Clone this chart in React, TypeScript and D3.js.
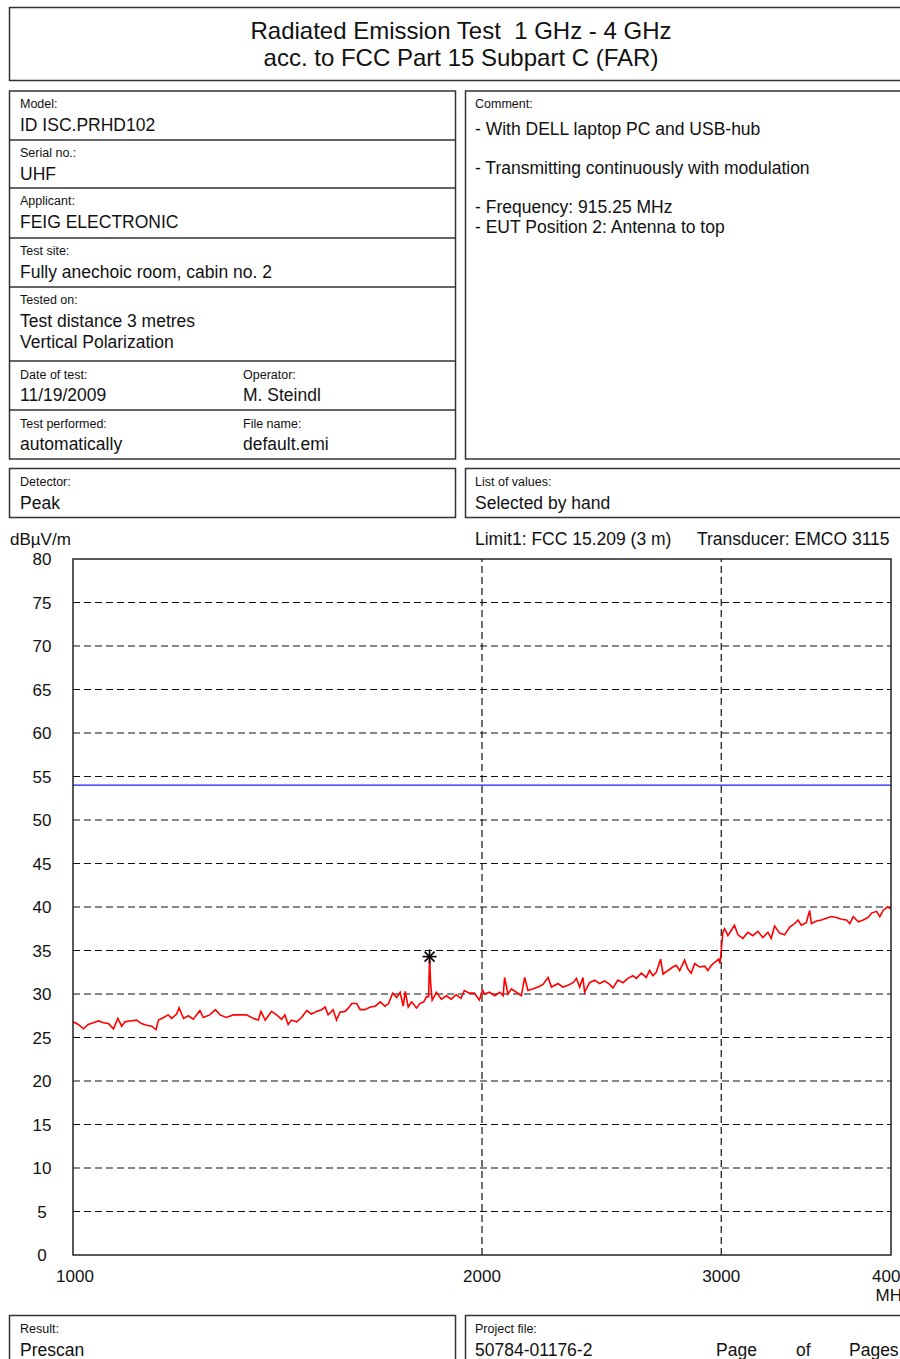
import React from "react";
import * as d3 from "d3";

// ---------- data ----------
const titleLines = ["Radiated Emission Test  1 GHz - 4 GHz", "acc. to FCC Part 15 Subpart C (FAR)"];

const yTicks = [0, 5, 10, 15, 20, 25, 30, 35, 40, 45, 50, 55, 60, 65, 70, 75, 80];
const xTickLabels = [1000, 2000, 3000, 4000];
const xGridFreqs = [2000, 3000];

const limitFreqMHz = [1000, 4000];
const limitLevel = [54, 54];

const markerFreqMHz = [1830];
const markerLevel = [34.3];

const traceFreqMHz = [
  1000, 1009, 1018, 1026, 1035, 1044, 1053, 1062, 1071, 1079, 1086, 1092, 1101, 1114, 1123, 1133, 1143, 1151,
  1156, 1166, 1175, 1182, 1192, 1197, 1206, 1216, 1226, 1240, 1247, 1261, 1273, 1283, 1297, 1312, 1327, 1342,
  1357, 1369, 1375, 1385, 1400, 1412, 1424, 1432, 1440, 1448, 1461, 1473, 1486, 1498, 1511, 1524, 1533, 1541,
  1554, 1563, 1572, 1586, 1595, 1604, 1617, 1627, 1640, 1655, 1669, 1683, 1697, 1707, 1719, 1731, 1741, 1750,
  1756, 1765, 1775, 1790, 1800, 1812, 1821, 1827, 1830, 1833, 1838, 1846, 1851, 1867, 1883, 1898, 1914, 1930,
  1941, 1958, 1974, 1991, 2002, 2009, 2026, 2044, 2061, 2073, 2078, 2090, 2102, 2120, 2138, 2150, 2162, 2181,
  2199, 2218, 2237, 2250, 2275, 2294, 2314, 2334, 2347, 2360, 2373, 2380, 2400, 2421, 2441, 2462, 2483, 2497,
  2518, 2540, 2561, 2583, 2598, 2620, 2642, 2657, 2672, 2687, 2707, 2718, 2741, 2764, 2780, 2796, 2819, 2835,
  2851, 2868, 2892, 2917, 2933, 2950, 2970, 2987, 2994, 3000, 3008, 3017, 3034, 3051, 3068, 3086, 3112, 3139,
  3165, 3192, 3219, 3247, 3265, 3284, 3312, 3340, 3369, 3397, 3417, 3436, 3465, 3485, 3495, 3525, 3555, 3585,
  3616, 3647, 3678, 3709, 3730, 3752, 3784, 3816, 3848, 3870, 3903, 3925, 3947, 3976, 4000,
];
const traceLevel = [
  26.8, 26.5, 26.0, 26.5, 26.7, 26.9, 26.7, 26.6, 26.0, 27.2, 26.3, 26.8, 26.9, 27.0, 26.6, 26.4, 26.3, 25.9,
  27.0, 27.3, 27.6, 27.2, 27.7, 28.4, 27.2, 27.5, 27.1, 28.1, 27.3, 27.6, 28.2, 27.6, 27.3, 27.6, 27.6, 27.6,
  27.2, 27.0, 28.0, 27.0, 28.0, 27.6, 27.1, 27.6, 26.5, 27.0, 26.8, 27.3, 28.1, 27.7, 28.0, 28.2, 28.5, 27.6,
  28.2, 27.0, 27.9, 28.0, 28.4, 28.9, 28.9, 28.2, 28.2, 28.5, 28.6, 29.1, 28.6, 28.9, 30.1, 29.6, 30.2, 28.6,
  30.3, 28.5, 29.1, 28.4, 28.9, 29.1, 29.7, 29.7, 34.3, 31.4, 29.3, 29.8, 30.2, 29.4, 29.8, 29.4, 29.9, 29.5,
  30.4, 30.1, 30.1, 29.3, 30.4, 30.0, 30.2, 29.8, 30.2, 29.8, 31.9, 30.0, 30.6, 30.2, 29.8, 31.9, 30.4, 30.6,
  30.8, 31.1, 31.9, 30.8, 31.2, 30.8, 31.0, 31.3, 31.8, 30.8, 31.9, 30.2, 31.3, 31.6, 31.2, 31.5, 31.1, 30.7,
  31.6, 31.3, 31.8, 32.1, 31.8, 32.4, 31.9, 32.7, 32.1, 32.5, 34.0, 32.3, 32.7, 33.1, 33.3, 32.7, 33.9, 32.9,
  32.4, 33.5, 33.1, 33.2, 32.7, 33.3, 33.7, 34.0, 33.5, 35.0, 37.1, 37.5, 36.7, 37.3, 37.9, 36.8, 36.4, 37.1,
  36.7, 37.2, 36.5, 37.1, 36.4, 37.8, 37.0, 36.8, 37.7, 38.1, 38.5, 37.9, 38.2, 39.6, 38.1, 38.4, 38.5, 38.7,
  38.9, 38.8, 38.6, 38.5, 38.1, 38.9, 38.3, 38.5, 38.8, 39.3, 39.5, 38.9, 39.6, 40.0, 39.8,
];

const leftLabels = ["Model:", "Serial no.:", "Applicant:", "Test site:", "Tested on:"];
const leftValues = [
  ["ID ISC.PRHD102"],
  ["UHF"],
  ["FEIG ELECTRONIC"],
  ["Fully anechoic room, cabin no. 2"],
  ["Test distance 3 metres", "Vertical Polarization"],
];
const pairLabels = [["Date of test:", "Operator:"], ["Test performed:", "File name:"]];
const pairValues = [["11/19/2009", "M. Steindl"], ["automatically", "default.emi"]];
const commentLines = [
  "- With DELL laptop PC and USB-hub",
  "",
  "- Transmitting continuously with modulation",
  "",
  "- Frequency: 915.25 MHz",
  "- EUT Position 2: Antenna to top",
];

const FONT = "'Liberation Sans', Arial, Helvetica, sans-serif";
const TXT = "#111";
const BOX = "#333";

export default function App() {
  const x = d3.scaleLog().domain([1000, 4000]).range([73, 891]);
  const y = d3.scaleLinear().domain([0, 80]).range([1255, 559]);

  const tracePath =
    d3
      .line<number>()
      .x((_, i) => x(traceFreqMHz[i]))
      .y((d) => y(d))(traceLevel) || "";
  const limitPath =
    d3
      .line<number>()
      .x((_, i) => x(limitFreqMHz[i]))
      .y((d) => y(d))(limitLevel) || "";

  const rowTops = [91, 140, 188, 238, 287, 361, 410, 459];

  const label = (tx: number, ty: number, s: string, k: string) => (
    <text key={k} x={tx} y={ty} fontSize={12.5} fill={TXT}>
      {s}
    </text>
  );
  const value = (tx: number, ty: number, s: string, k: string) => (
    <text key={k} x={tx} y={ty} fontSize={17.5} fill={TXT}>
      {s}
    </text>
  );

  return (
    <svg
      width={900}
      height={1359}
      style={{ position: "absolute", left: 0, top: 0, background: "#fff" }}
      fontFamily={FONT}
    >
      <rect x={0} y={0} width={900} height={1359} fill="#fff" />
      {/* title */}
      <rect x={9.5} y={7.5} width={920} height={73} fill="none" stroke={BOX} strokeWidth={1.5} />
      {titleLines.map((t, i) => (
        <text
          key={t}
          x={461}
          y={39 + i * 27}
          fontSize={24}
          textAnchor="middle"
          fill={TXT}
          style={{ whiteSpace: "pre" }}
          xmlSpace="preserve"
        >
          {t}
        </text>
      ))}

      {/* left info block */}
      <rect x={9.5} y={91} width={446} height={368} fill="none" stroke={BOX} strokeWidth={1.5} />
      {rowTops.slice(1, -1).map((ry) => (
        <line key={ry} x1={9.5} x2={455.5} y1={ry} y2={ry} stroke={BOX} strokeWidth={1.5} />
      ))}
      {leftLabels.map((l, i) => label(20, rowTops[i] + 17, l, "l" + i))}
      {leftValues.map((vals, i) =>
        vals.map((v, j) => value(20, rowTops[i] + 40 + j * 21, v, "v" + i + j))
      )}
      {pairLabels.map((pair, i) =>
        pair.map((l, j) => label(j === 0 ? 20 : 243, rowTops[5 + i] + 18, l, "pl" + i + j))
      )}
      {pairValues.map((pair, i) =>
        pair.map((v, j) => value(j === 0 ? 20 : 243, rowTops[5 + i] + 40, v, "pv" + i + j))
      )}

      {/* comment box */}
      <rect x={465.5} y={91} width={460} height={368} fill="none" stroke={BOX} strokeWidth={1.5} />
      {label(475, 108, "Comment:", "cm")}
      {commentLines.map((c, i) => (c ? value(475, 135 + i * 19.6, c, "c" + i) : null))}

      {/* detector / list of values */}
      <rect x={9.5} y={468.5} width={446} height={49} fill="none" stroke={BOX} strokeWidth={1.5} />
      {label(20, 486, "Detector:", "det")}
      {value(20, 509, "Peak", "detv")}
      <rect x={465.5} y={468.5} width={460} height={49} fill="none" stroke={BOX} strokeWidth={1.5} />
      {label(475, 486, "List of values:", "lov")}
      {value(475, 509, "Selected by hand", "lovv")}

      {/* chart header */}
      <text x={10} y={545} fontSize={17} fill={TXT}>
        dBµV/m
      </text>
      <text x={475} y={545} fontSize={17.5} fill={TXT}>
        Limit1: FCC 15.209 (3 m)
      </text>
      <text x={697} y={545} fontSize={17.5} fill={TXT}>
        Transducer: EMCO 3115
      </text>

      {/* grid */}
      {yTicks
        .filter((t) => t > 0 && t < 80)
        .map((t) => (
          <line
            key={"gy" + t}
            x1={x(1000)}
            x2={x(4000)}
            y1={y(t)}
            y2={y(t)}
            stroke="#111"
            strokeWidth={1.2}
            strokeDasharray="7,4"
          />
        ))}
      {xGridFreqs.map((f) => (
        <line
          key={"gx" + f}
          x1={x(f)}
          x2={x(f)}
          y1={y(0)}
          y2={y(80)}
          stroke="#111"
          strokeWidth={1.2}
          strokeDasharray="7,4"
        />
      ))}

      {/* limit line */}
      <path d={limitPath} fill="none" stroke="#1a1aff" strokeWidth={1.2} />

      {/* trace */}
      <path d={tracePath} fill="none" stroke="#ff0000" strokeWidth={1.6} strokeLinejoin="miter" />

      {/* marker */}
      {markerFreqMHz.map((f, i) => {
        const cx = x(f);
        const cy = y(markerLevel[i]);
        const r = 7;
        const rd = 5;
        return (
          <g key={"m" + i} stroke="#000" strokeWidth={1.6}>
            <line x1={cx} x2={cx} y1={cy - r} y2={cy + r} />
            <line x1={cx - r} x2={cx + r} y1={cy} y2={cy} />
            <line x1={cx - rd} x2={cx + rd} y1={cy - rd} y2={cy + rd} />
            <line x1={cx - rd} x2={cx + rd} y1={cy + rd} y2={cy - rd} />
          </g>
        );
      })}

      {/* frame */}
      <rect
        x={x(1000)}
        y={y(80)}
        width={x(4000) - x(1000)}
        height={y(0) - y(80)}
        fill="none"
        stroke="#222"
        strokeWidth={1.5}
      />

      {/* y tick labels */}
      {yTicks.map((t) => (
        <text key={"yt" + t} x={42} y={y(t) + 6} fontSize={17} textAnchor="middle" fill={TXT}>
          {t}
        </text>
      ))}
      {/* x tick labels */}
      {xTickLabels.map((f) => (
        <text key={"xt" + f} x={x(f) + (f === 1000 ? 2 : 0)} y={1282} fontSize={17} textAnchor="middle" fill={TXT}>
          {f}
        </text>
      ))}
      <text x={x(4000) + 2} y={1301} fontSize={17} textAnchor="middle" fill={TXT}>
        MHz
      </text>

      {/* bottom boxes */}
      <rect x={9.5} y={1315.5} width={446} height={60} fill="none" stroke={BOX} strokeWidth={1.5} />
      {label(20, 1333, "Result:", "res")}
      {value(20, 1356, "Prescan", "resv")}
      <rect x={465.5} y={1315.5} width={460} height={60} fill="none" stroke={BOX} strokeWidth={1.5} />
      {label(475, 1333, "Project file:", "pf")}
      {value(475, 1356, "50784-01176-2", "pfv")}
      {value(716, 1356, "Page", "pg")}
      {value(796, 1356, "of", "of")}
      {value(849, 1356, "Pages", "pgs")}
    </svg>
  );
}
